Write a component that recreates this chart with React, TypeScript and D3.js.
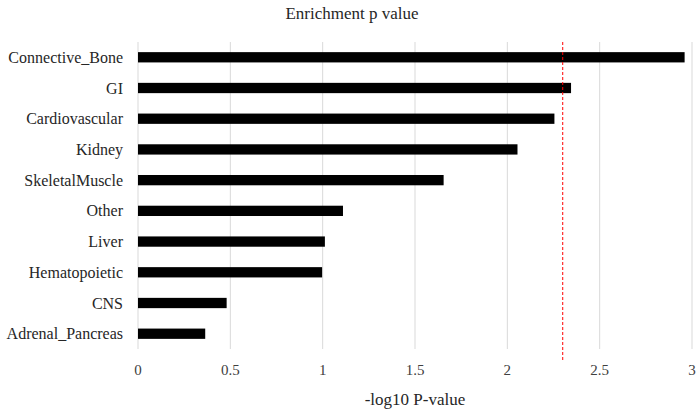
import React, { useEffect, useRef } from 'react';
import * as d3 from 'd3';

const categories = [
	'Connective_Bone',
	'GI',
	'Cardiovascular',
	'Kidney',
	'SkeletalMuscle',
	'Other',
	'Liver',
	'Hematopoietic',
	'CNS',
	'Adrenal_Pancreas',
];
const values = [2.96, 2.345, 2.255, 2.055, 1.655, 1.11, 1.012, 0.997, 0.48, 0.364];
const xTicks = [0, 0.5, 1, 1.5, 2, 2.5, 3];
const threshold = 2.3;

const width = 696;
const height = 410;
const margin = { top: 42, right: 4, bottom: 61, left: 138 };
const serif = "'Liberation Serif', 'Tinos', 'Times New Roman', 'DejaVu Serif', serif";

export default function App() {
	const ref = useRef<SVGSVGElement>(null);

	useEffect(() => {
		const svg = d3.select(ref.current);
		svg.selectAll('*').remove();

		const x = d3
			.scaleLinear()
			.domain([0, 3])
			.range([margin.left, width - margin.right]);
		const y = d3
			.scaleBand()
			.domain(categories)
			.range([margin.top, height - margin.bottom])
			.paddingInner(0.665)
			.paddingOuter(0.33);

		// gridlines
		svg.append('g')
			.selectAll('line')
			.data(xTicks)
			.enter()
			.append('line')
			.attr('x1', d => x(d))
			.attr('x2', d => x(d))
			.attr('y1', margin.top)
			.attr('y2', height - margin.bottom)
			.attr('stroke', '#d9d9d9')
			.attr('stroke-width', 1);

		// bars
		svg.append('g')
			.selectAll('rect')
			.data(categories)
			.enter()
			.append('rect')
			.attr('x', x(0))
			.attr('y', d => y(d) as number)
			.attr('width', (d, i) => x(values[i]) - x(0))
			.attr('height', y.bandwidth())
			.attr('fill', '#000');

		// threshold line
		svg.append('line')
			.attr('x1', x(threshold))
			.attr('x2', x(threshold))
			.attr('y1', margin.top)
			.attr('y2', height - margin.bottom + 11)
			.attr('stroke', '#ff0000')
			.attr('stroke-width', 1)
			.attr('stroke-dasharray', '3,2');

		const labels = svg.append('g').style('font-family', serif);

		// category labels
		labels
			.selectAll('text.cat')
			.data(categories)
			.enter()
			.append('text')
			.attr('class', 'cat')
			.attr('x', margin.left - 15)
			.attr('y', d => (y(d) as number) + y.bandwidth() / 2)
			.attr('dy', '0.35em')
			.attr('text-anchor', 'end')
			.style('font-size', '16px')
			.attr('fill', '#262626')
			.text(d => d);

		// tick labels
		labels
			.selectAll('text.tick')
			.data(xTicks)
			.enter()
			.append('text')
			.attr('class', 'tick')
			.attr('x', d => x(d))
			.attr('y', 370)
			.attr('dy', '0.35em')
			.attr('text-anchor', 'middle')
			.style('font-size', '15px')
			.attr('fill', '#404040')
			.text(d => String(d));

		// axis title
		labels
			.append('text')
			.attr('x', 415)
			.attr('y', 405)
			.attr('text-anchor', 'middle')
			.style('font-size', '17px')
			.attr('fill', '#262626')
			.text('-log10 P-value');

		// chart title
		labels
			.append('text')
			.attr('x', 352)
			.attr('y', 19)
			.attr('text-anchor', 'middle')
			.style('font-size', '17px')
			.attr('fill', '#262626')
			.text('Enrichment p value');
	}, []);

	return (
		<svg
			ref={ref}
			width={width}
			height={height}
			style={{ position: 'absolute', left: 0, top: 0, background: '#fff' }}
		/>
	);
}
